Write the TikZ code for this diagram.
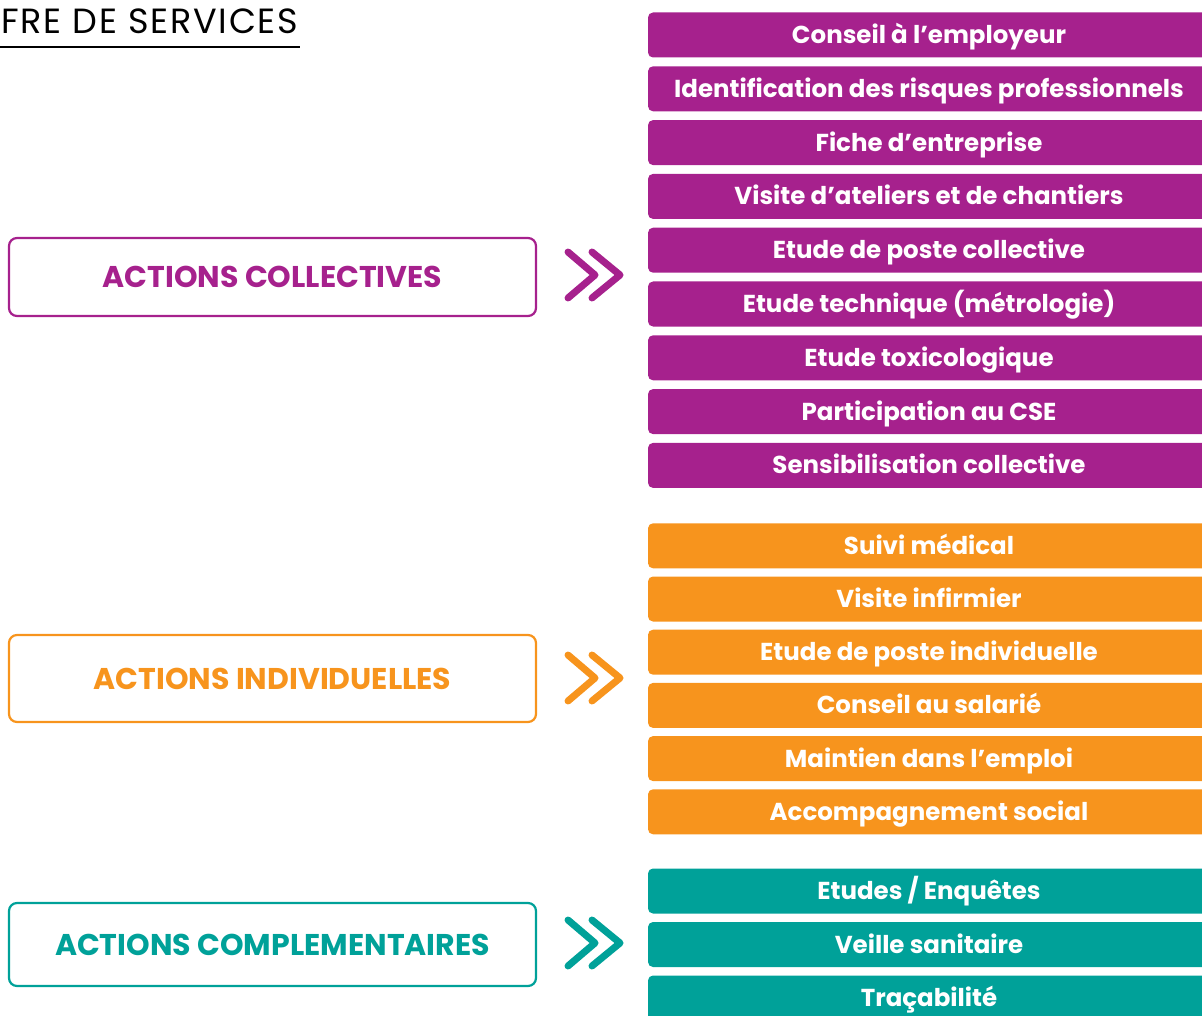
\documentclass[tikz,border=0pt]{standalone}
\usepackage{fontspec}
\setmainfont{Poppins}
\definecolor{violet}{HTML}{A6218D}
\definecolor{orange}{HTML}{F7941D}
\definecolor{turquoise}{HTML}{00A199}
\tikzset{
  item/.style={fill=#1, rounded corners=5pt, minimum width=562pt, minimum height=45pt,
    inner sep=0pt, text height=17pt, text depth=0pt, text=white,
    font=\fontsize{24.5}{24.5}\selectfont\bfseries},
  groupe/.style={draw=#1, line width=2.2pt, rounded corners=8pt, minimum width=527pt,
    inner sep=0pt, text height=21pt, text depth=0pt, text=#1,
    font=\fontsize{30}{30}\selectfont\bfseries},
  chevron/.style={draw=#1, line width=7pt, line cap=round, line join=round}
}
\begin{document}
\begin{tikzpicture}[x=1pt, y=-1pt]
	\useasboundingbox (0,0) rectangle (1202,1016);
	
	% titre
	\node[anchor=base west, inner sep=0pt, font=\fontsize{35}{35}\selectfont\addfontfeature{LetterSpace=5}] (titre) at (1,34) {FRE DE SERVICES};
	\draw[line width=2.4pt] (0,47) -- (300,47);
	
	% groupes
	\node[groupe=violet, minimum height=78pt] (coll) at (272.5,277) {ACTIONS COLLECTIVES};
	\node[groupe=orange, minimum height=87pt] (indiv) at (272.5,678.5) {ACTIONS INDIVIDUELLES};
	\node[groupe=turquoise, minimum height=83pt] (compl) at (272.5,944.5) {ACTIONS COMPLEMENTAIRES};
	
	% chevrons
	\draw[chevron=violet] (568,252) -- (595,275) -- (568,298);
	\draw[chevron=violet] (592,252) -- (620,275) -- (592,298);
	\draw[chevron=orange] (568,655) -- (595,678) -- (568,701);
	\draw[chevron=orange] (592,655) -- (620,678) -- (592,701);
	\draw[chevron=turquoise] (568,920) -- (595,943) -- (568,966);
	\draw[chevron=turquoise] (592,920) -- (620,943) -- (592,966);
	
	% actions collectives
	\foreach \t [count=\i] in {Conseil à l’employeur, Identification des risques professionnels,
		Fiche d’entreprise, Visite d’ateliers et de chantiers, Etude de poste collective,
		Etude technique (métrologie), Etude toxicologique, Participation au CSE,
		Sensibilisation collective}
		\node[item=violet] (c\i) at (929,{35+53.8*(\i-1)}) {\t};
	
	% actions individuelles
	\foreach \t [count=\i] in {Suivi médical, Visite infirmier, Etude de poste individuelle,
		Conseil au salarié, Maintien dans l’emploi, Accompagnement social}
		\node[item=orange] (i\i) at (929,{545.8+53.2*(\i-1)}) {\t};
	
	% actions complementaires
	\foreach \t [count=\i] in {Etudes / Enquêtes, Veille sanitaire, Traçabilité}
		\node[item=turquoise] (k\i) at (929,{891+53.5*(\i-1)}) {\t};
\end{tikzpicture}
\end{document}
